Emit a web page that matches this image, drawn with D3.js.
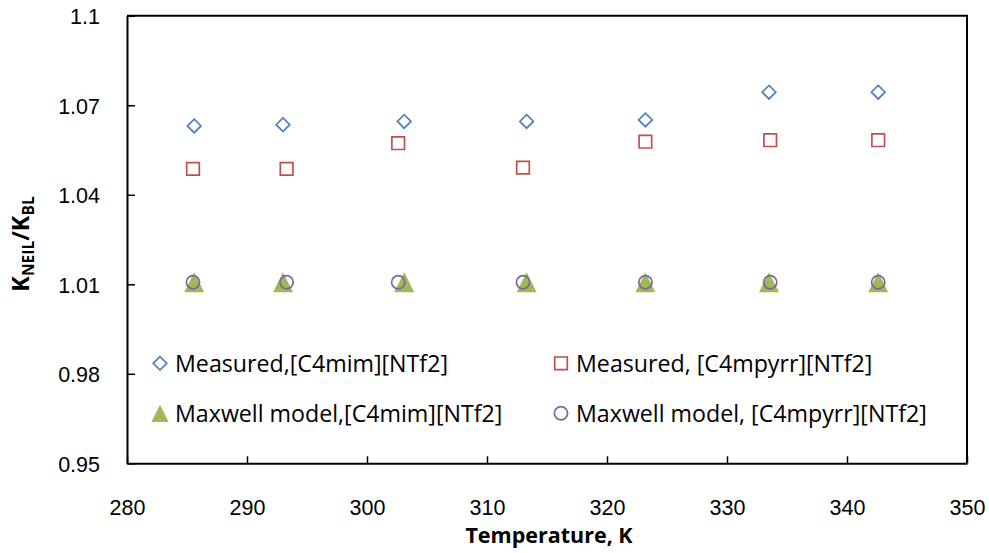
<!DOCTYPE html>
<html>
<head>
<meta charset="utf-8">
<script src="https://cdn.jsdelivr.net/npm/d3@7"></script>
<style>
  html, body { margin: 0; padding: 0; background: #fff; }
  svg { display: block; font-family: "Open Sans", "Liberation Sans", sans-serif; }
</style>
</head>
<body>
<svg id="chart" width="989" height="553"></svg>
<script>
// Temperatures (K) for each ionic liquid
const tempC4mim   = [285.6, 293.0, 303.1, 313.3, 323.2, 333.5, 342.6];
const tempC4mpyrr = [285.5, 293.3, 302.6, 313.0, 323.2, 333.6, 342.6];

// Thermal conductivity enhancement ratios K_NEIL / K_BL
const measuredC4mim   = [1.0631, 1.0635, 1.0646, 1.0646, 1.0651, 1.0744, 1.0744];
const measuredC4mpyrr = [1.0487, 1.0487, 1.0573, 1.0491, 1.0578, 1.0583, 1.0583];
const maxwellC4mim    = [1.0107, 1.0107, 1.0107, 1.0107, 1.0107, 1.0107, 1.0107];
const maxwellC4mpyrr  = [1.0107, 1.0107, 1.0107, 1.0107, 1.0107, 1.0107, 1.0107];

// Axis ticks
const xTicks = [280, 290, 300, 310, 320, 330, 340, 350];
const yTicks = [0.95, 0.98, 1.01, 1.04, 1.07, 1.1];
const yTickLabels = ["0.95", "0.98", "1.01", "1.04", "1.07", "1.1"];

const seriesNames = [
  "Measured,[C4mim][NTf2]",
  "Measured, [C4mpyrr][NTf2]",
  "Maxwell model,[C4mim][NTf2]",
  "Maxwell model, [C4mpyrr][NTf2]"
];

const svg = d3.select("#chart");
const plot = { left: 127, right: 967, top: 15.8, bottom: 463.3 };

const x = d3.scaleLinear().domain([280, 350]).range([plot.left, plot.right]);
const y = d3.scaleLinear().domain([0.95, 1.1]).range([plot.bottom, plot.top]);

// Custom marker shapes (size = half-extent in px)
const diamond = { draw(ctx, s) { ctx.moveTo(0, -s); ctx.lineTo(s, 0); ctx.lineTo(0, s); ctx.lineTo(-s, 0); ctx.closePath(); } };
const square  = { draw(ctx, s) { ctx.rect(-s, -s, 2 * s, 2 * s); } };
const triangle = { draw(ctx, s) { ctx.moveTo(0, -s); ctx.lineTo(s, s); ctx.lineTo(-s, s); ctx.closePath(); } };
const circle  = { draw(ctx, s) { ctx.moveTo(s, 0); ctx.arc(0, 0, s, 0, 2 * Math.PI); } };

const series = [
  { name: seriesNames[0], xs: tempC4mim,   ys: measuredC4mim,   type: diamond,  size: 6.8, legendSize: 6.8, fill: "none",    stroke: "#4F81BD", sw: 1.7 },
  { name: seriesNames[1], xs: tempC4mpyrr, ys: measuredC4mpyrr, type: square,   size: 6.3, legendSize: 6.3, fill: "none",    stroke: "#C0504D", sw: 1.7 },
  { name: seriesNames[2], xs: tempC4mim,   ys: maxwellC4mim,    type: triangle, size: 10,  legendSize: 8.6, fill: "#9BBB59", stroke: "none",    sw: 0 },
  { name: seriesNames[3], xs: tempC4mpyrr, ys: maxwellC4mpyrr,  type: circle,   size: 6.6, legendSize: 6.6, fill: "none",    stroke: "#8064A2", sw: 1.7 }
];

// Axes with inward ticks
const xAxis = d3.axisBottom(x).tickValues(xTicks).tickSize(-7).tickSizeOuter(0).tickFormat(d3.format("d"));
const yAxis = d3.axisLeft(y).tickValues(yTicks).tickSize(-8).tickSizeOuter(0).tickFormat((d, i) => yTickLabels[i]);

const gx = svg.append("g").attr("transform", `translate(0,${plot.bottom})`).call(xAxis);
const gy = svg.append("g").attr("transform", `translate(${plot.left},0)`).call(yAxis);

[gx, gy].forEach(g => {
  g.select(".domain").attr("stroke", "#000").attr("stroke-width", 2);
  g.selectAll(".tick line").attr("stroke", "#000").attr("stroke-width", 1.5);
  g.selectAll(".tick text").attr("fill", "#000").attr("font-size", 21.5);
});
gx.selectAll(".tick text").attr("y", 0).attr("dy", 0).attr("transform", "translate(0,52)");
gy.selectAll(".tick text").attr("x", -27).attr("dy", "0.36em");

// Top and right frame
svg.append("path")
  .attr("d", `M${plot.left},${plot.top}H${plot.right}V${plot.bottom}`)
  .attr("fill", "none").attr("stroke", "#000").attr("stroke-width", 2);

// Data markers
series.forEach(s => {
  const sym = d3.symbol().type(s.type).size(s.size);
  svg.append("g").selectAll("path")
    .data(s.xs.map((t, i) => [t, s.ys[i]]))
    .join("path")
    .attr("transform", d => `translate(${x(d[0])},${y(d[1])})`)
    .attr("d", sym())
    .attr("fill", s.fill)
    .attr("stroke", s.stroke)
    .attr("stroke-width", s.sw);
});

// Legend (two columns, two rows inside the plot)
const legendPos = [
  { mx: 160, my: 363.3 },
  { mx: 561, my: 363.3 },
  { mx: 160, my: 413.3 },
  { mx: 561, my: 413.3 }
];
series.forEach((s, i) => {
  const p = legendPos[i];
  svg.append("path")
    .attr("transform", `translate(${p.mx},${p.my})`)
    .attr("d", d3.symbol().type(s.type).size(s.legendSize)())
    .attr("fill", s.fill)
    .attr("stroke", s.stroke)
    .attr("stroke-width", s.sw);
  svg.append("text")
    .attr("x", p.mx + 15)
    .attr("y", p.my + 8.5)
    .attr("font-size", 23.2)
    .attr("fill", "#000")
    .text(s.name);
});

// Axis titles
svg.append("text")
  .attr("x", (plot.left + plot.right) / 2 + 2)
  .attr("y", 543.3)
  .attr("text-anchor", "middle")
  .attr("font-weight", "bold")
  .attr("font-size", 21.5)
  .attr("fill", "#000")
  .text("Temperature, K");

const yt = svg.append("text")
  .attr("transform", `translate(29,244) rotate(-90)`)
  .attr("text-anchor", "middle")
  .attr("font-weight", "bold")
  .attr("font-size", 23.5)
  .attr("fill", "#000");
yt.append("tspan").text("K");
yt.append("tspan").attr("font-size", 15.5).attr("dy", 5).text("NEIL");
yt.append("tspan").attr("dy", -5).text("/K");
yt.append("tspan").attr("font-size", 15.5).attr("dy", 5).text("BL");
</script>
</body>
</html>
